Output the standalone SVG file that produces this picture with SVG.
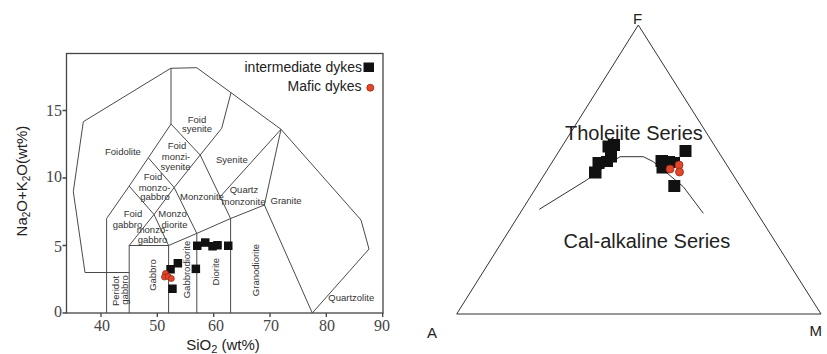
<svg xmlns="http://www.w3.org/2000/svg" width="827" height="354" viewBox="0 0 827 354">
<style>
.fld{fill:none;stroke:#4a4a4a;stroke-width:1;stroke-linejoin:round}
.frm{fill:none;stroke:#444;stroke-width:1.3}
.lbl{font-family:"Liberation Sans",Arial,sans-serif;font-size:9.5px;fill:#333}
.num{font-family:"Liberation Serif","Times New Roman",serif;font-size:16px;fill:#444}
.ttl{font-family:"Liberation Sans",Arial,sans-serif;font-size:15px;fill:#222}
.leg{font-family:"Liberation Sans",Arial,sans-serif;font-size:14px;fill:#222}
.big{font-family:"Liberation Sans",Arial,sans-serif;font-size:20px;fill:#222}
.sq{fill:#111}
.dot{fill:#e2472b;stroke:#9a2412;stroke-width:0.8}
.tri{fill:none;stroke:#333;stroke-width:1}
</style>
<rect width="827" height="354" fill="#fff"/>

<g id="tas-frame">
<rect class="frm" x="66.5" y="53.5" width="316.5" height="259.5"/>
<path class="frm" d="M62.5,110.5H66.5M62.5,178H66.5M62.5,245.5H66.5M62.5,313H66.5M101,313V317M157.3,313V317M213.7,313V317M270,313V317M326.3,313V317M382.7,313V317"/>
<text class="num" x="62" y="116" text-anchor="end">15</text>
<text class="num" x="62" y="182" text-anchor="end">10</text>
<text class="num" x="62" y="252" text-anchor="end">5</text>
<text class="num" x="62" y="317" text-anchor="end">0</text>
<text class="num" x="102" y="331" text-anchor="middle">40</text>
<text class="num" x="157.3" y="331" text-anchor="middle">50</text>
<text class="num" x="216" y="331" text-anchor="middle">60</text>
<text class="num" x="271" y="331" text-anchor="middle">70</text>
<text class="num" x="327" y="331" text-anchor="middle">80</text>
<text class="num" x="382" y="331" text-anchor="middle">90</text>
<text class="ttl" transform="translate(27,181) rotate(-90)" text-anchor="middle">Na<tspan font-size="10" dy="3">2</tspan><tspan dy="-3">O+K</tspan><tspan font-size="10" dy="3">2</tspan><tspan dy="-3">O(wt%)</tspan></text>
<text class="ttl" x="223" y="350" text-anchor="middle" font-size="16">SiO<tspan font-size="11" dy="3">2</tspan><tspan dy="-3"> (wt%)</tspan></text>
</g>

<g id="tas-fields">
<path class="fld" d="M85,272.5L73.3,191.7L83.3,121.7L170.7,68.3L196.7,67.7L231,92.7L281,129.3L361,220L369,249L312.3,313"/>
<path class="fld" d="M106.6,313V218.5M85,272.5H129.2M129.2,313V245.5H168.6M168.6,313V245.5M196.8,313V233.4M230.6,313V218.5M168.6,245.5L196.8,233.4L230.6,218.5L264.4,205M264.4,205L312.3,313M264.4,205L281,129.3M281,129.3L220.2,196.7M200.2,155L230.6,218.5M200.2,155L221.7,128.3L231,92.7M171,68.3V124M171,124L148.3,157.8L129.2,186.1L106.6,218.5M171,124L200.2,155M148.3,157.8L174.2,187.5L200.2,155M129.2,186.1L154,214.5L168.6,245.5M129.2,245.5L154,214.5L174.2,187.5M174.2,187.5L196.8,233.4"/>
</g>

<g id="tas-labels">
<text class="lbl" x="105" y="155">Foidolite</text>
<text class="lbl" x="197" y="123" text-anchor="middle">Foid</text>
<text class="lbl" x="197" y="132" text-anchor="middle">syenite</text>
<text class="lbl" x="177" y="149" text-anchor="middle">Foid</text>
<text class="lbl" x="176" y="160" text-anchor="middle">monzi-</text>
<text class="lbl" x="175.5" y="169.5" text-anchor="middle">syenite</text>
<text class="lbl" x="153" y="180" text-anchor="middle">Foid</text>
<text class="lbl" x="154.5" y="191" text-anchor="middle">monzo-</text>
<text class="lbl" x="155" y="200" text-anchor="middle">gabbro</text>
<text class="lbl" x="133" y="216.7" text-anchor="middle">Foid</text>
<text class="lbl" x="127.5" y="227.7" text-anchor="middle">gabbro</text>
<text class="lbl" x="172.5" y="216.7" text-anchor="middle">Monzo</text>
<text class="lbl" x="174.5" y="227.7" text-anchor="middle">diorite</text>
<text class="lbl" x="152.5" y="232.5" text-anchor="middle">monzo-</text>
<text class="lbl" x="152.5" y="243.3" text-anchor="middle">gabbro</text>
<text class="lbl" x="180" y="200">Monzonite</text>
<text class="lbl" x="216" y="163.3">Syenite</text>
<text class="lbl" x="244" y="193.3" text-anchor="middle">Quartz</text>
<text class="lbl" x="243.5" y="204.5" text-anchor="middle">monzonite</text>
<text class="lbl" x="270.5" y="204">Granite</text>
<text class="lbl" x="328.3" y="300.7">Quartzolite</text>
<text class="lbl" transform="translate(119,291) rotate(-90)" text-anchor="middle">Peridot</text>
<text class="lbl" transform="translate(127.5,290) rotate(-90)" text-anchor="middle">gabbro</text>
<text class="lbl" transform="translate(156,275) rotate(-90)" text-anchor="middle">Gabbro</text>
<text class="lbl" transform="translate(190,269.5) rotate(-90)" text-anchor="middle">Gabbrodiorite</text>
<text class="lbl" transform="translate(219,271.7) rotate(-90)" text-anchor="middle">Diorite</text>
<text class="lbl" transform="translate(259,270) rotate(-90)" text-anchor="middle">Granodiorite</text>
</g>

<g id="tas-data">
<rect class="sq" x="193" y="241.5" width="8.5" height="8.5"/>
<rect class="sq" x="201" y="238.3" width="8.5" height="8.5"/>
<rect class="sq" x="208.3" y="242" width="8.5" height="8.5"/>
<rect class="sq" x="213.3" y="241" width="8.5" height="8.5"/>
<rect class="sq" x="224" y="241.5" width="8.5" height="8.5"/>
<rect class="sq" x="191.6" y="264.6" width="8.5" height="8.5"/>
<rect class="sq" x="173.6" y="259" width="8.5" height="8.5"/>
<rect class="sq" x="166.3" y="265" width="8.5" height="8.5"/>
<rect class="sq" x="168.2" y="284.5" width="8.5" height="8.5"/>
<circle class="dot" cx="165.5" cy="273.5" r="3"/>
<circle class="dot" cx="164.5" cy="277" r="3"/>
<circle class="dot" cx="168.3" cy="276.5" r="3"/>
<circle class="dot" cx="171.3" cy="278.5" r="3"/>
</g>

<g id="legend">
<text class="leg" x="362" y="72" text-anchor="end">intermediate dykes</text>
<rect class="sq" x="363.5" y="62.5" width="10.5" height="9.5"/>
<text class="leg" x="361.5" y="90.5" text-anchor="end">Mafic dykes</text>
<circle class="dot" cx="370.3" cy="87.7" r="3.5"/>
</g>

<g id="afm">
<path class="tri" d="M638.3,25L821,314H456.7Z"/>
<text class="ttl" x="633" y="23.5">F</text>
<text class="ttl" x="427" y="338" font-size="16">A</text>
<text class="ttl" x="809.5" y="335.5" font-size="18">M</text>
<text class="big" x="565" y="140">Tholeiite Series</text>
<text class="big" x="563.5" y="248.3">Cal-alkaline Series</text>
<path class="tri" d="M539.3,209.3L586.7,180L603,168L620,156.7L643.3,156.7L653.3,161.7L683.3,186.7L703.3,213.3"/>
<rect class="sq" x="608" y="139" width="12" height="12"/>
<rect class="sq" x="602.5" y="140.5" width="12" height="12"/>
<rect class="sq" x="605" y="150.5" width="12" height="12"/>
<rect class="sq" x="601" y="156" width="12" height="11"/>
<rect class="sq" x="592.5" y="157" width="12" height="12"/>
<rect class="sq" x="589" y="166.5" width="12.5" height="12"/>
<rect class="sq" x="655.5" y="155" width="12.5" height="12"/>
<rect class="sq" x="656.5" y="161.5" width="12" height="12"/>
<rect class="sq" x="663" y="156" width="12" height="12"/>
<rect class="sq" x="668" y="157" width="12" height="10.5"/>
<rect class="sq" x="679.5" y="145" width="12" height="12"/>
<rect class="sq" x="668.3" y="180" width="12" height="12"/>
<circle class="dot" cx="670" cy="169" r="4"/>
<circle class="dot" cx="679" cy="165" r="4"/>
<circle class="dot" cx="679.5" cy="172" r="4"/>
</g>
</svg>
